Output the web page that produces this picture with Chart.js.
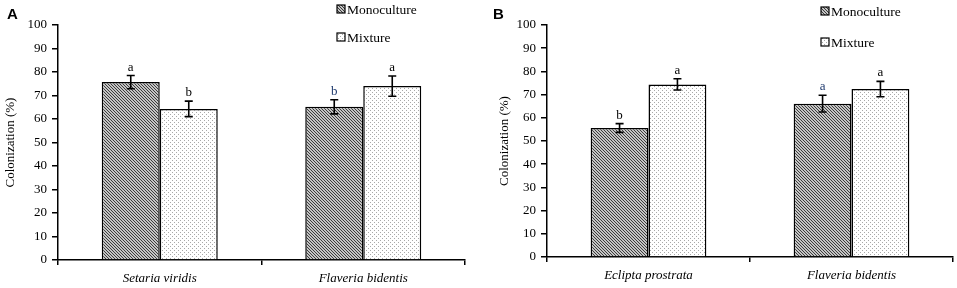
<!DOCTYPE html>
<html>
<head>
<meta charset="utf-8">
<script src="https://cdn.jsdelivr.net/npm/chart.js@4.4.1/dist/chart.umd.min.js"></script>
<style>
  body { margin: 0; background: #fff; }
  .panel { position: absolute; top: 0; height: 288px; }
  #wrapA { left: 0; width: 480px; }
  #wrapB { left: 480px; width: 477px; }
</style>
</head>
<body>
<div class="panel" id="wrapA"><canvas id="chartA" width="480" height="288"></canvas></div>
<div class="panel" id="wrapB"><canvas id="chartB" width="477" height="288"></canvas></div>

<script>
// ─────────────────────────────────────
// DATA
// ─────────────────────────────────────

const seriesNames = ["Monoculture", "Mixture"];
const yTicks = [0, 10, 20, 30, 40, 50, 60, 70, 80, 90, 100];

// panel A
const categoriesA = ["Setaria viridis", "Flaveria bidentis"];
const monoA = [75.7, 65.2];
const mixA = [64.3, 74.0];
const monoErrA = [2.8, 3.0];
const mixErrA = [3.3, 4.3];
const monoLettersA = ["a", "b"];
const mixLettersA = ["b", "a"];

// panel B
const categoriesB = ["Eclipta prostrata", "Flaveria bidentis"];
const monoB = [55.6, 66.1];
const mixB = [74.4, 72.4];
const monoErrB = [1.9, 3.6];
const mixErrB = [2.4, 3.3];
const monoLettersB = ["b", "a"];
const mixLettersB = ["a", "a"];


// ─────────────────────────────────────
// FILL PATTERNS
// ─────────────────────────────────────

function hatchPattern(ctx) {
    const c = document.createElement("canvas");
    c.width = 3; c.height = 3;
    const g = c.getContext("2d");
    g.fillStyle = "#c4c4c4";
    g.fillRect(0, 0, 3, 3);
    g.fillStyle = "#3c3c3c";
    for (let i = 0; i < 3; i++) g.fillRect(i, i, 1, 1);
    return ctx.createPattern(c, "repeat");
}

function dotPattern(ctx) {
    const c = document.createElement("canvas");
    c.width = 4; c.height = 4;
    const g = c.getContext("2d");
    g.fillStyle = "#ffffff";
    g.fillRect(0, 0, 4, 4);
    g.fillStyle = "#a8a8a8";
    g.fillRect(0, 0, 1, 1);
    g.fillRect(2, 2, 1, 1);
    return ctx.createPattern(c, "repeat");
}


// ─────────────────────────────────────
// PLUGIN: error bars, letters, legend, panel label
// ─────────────────────────────────────

const extras = {
    id: "extras",
    afterDatasetsDraw(chart, args, opts) {
        const ctx = chart.ctx;
        const y = chart.scales.y;

        // error bars + letters
        chart.data.datasets.forEach((ds, di) => {
            const meta = chart.getDatasetMeta(di);
            meta.data.forEach((bar, i) => {
                const v = ds.data[i];
                const e = ds.errors[i];
                const top = y.getPixelForValue(v + e);
                const bot = y.getPixelForValue(v - e);
                ctx.save();
                ctx.strokeStyle = "#000";
                ctx.lineWidth = 1.6;
                ctx.beginPath();
                ctx.moveTo(bar.x, top); ctx.lineTo(bar.x, bot);
                ctx.moveTo(bar.x - 4, top); ctx.lineTo(bar.x + 4, top);
                ctx.moveTo(bar.x - 4, bot); ctx.lineTo(bar.x + 4, bot);
                ctx.stroke();

                ctx.font = "13px 'Liberation Serif'";
                ctx.fillStyle = ds.letterColors[i];
                ctx.textAlign = "center";
                ctx.textBaseline = "alphabetic";
                ctx.fillText(ds.letters[i], bar.x, top - opts.letterGap);
                ctx.restore();
            });
        });

        // legend
        ctx.save();
        chart.data.datasets.forEach((ds, di) => {
            const lx = opts.legendX;
            const ly = opts.legendY[di];
            ctx.fillStyle = ds.backgroundColor;
            ctx.fillRect(lx, ly - 4, 8, 8);
            ctx.strokeStyle = "#000";
            ctx.lineWidth = 1.2;
            ctx.strokeRect(lx, ly - 4, 8, 8);
            ctx.fillStyle = "#000";
            ctx.font = "13.5px 'Liberation Serif'";
            ctx.textAlign = "left";
            ctx.textBaseline = "middle";
            ctx.fillText(ds.label, lx + 10, ly + 1);
        });

        // panel label
        ctx.font = "bold 15px 'Liberation Sans'";
        ctx.fillStyle = "#000";
        ctx.textAlign = "left";
        ctx.textBaseline = "alphabetic";
        ctx.fillText(opts.panel, opts.panelX, 19);
        ctx.restore();
    }
};


// ─────────────────────────────────────
// CHART BUILDER
// ─────────────────────────────────────

function makeChart(id, cats, mono, mix, monoErr, mixErr, monoLet, mixLet, monoLetCol, mixLetCol, lay) {

    const canvas = document.getElementById(id);
    const ctx = canvas.getContext("2d");

    return new Chart(canvas, {

        type: "bar",

        data: {
            labels: cats,
            datasets: [
                {
                    label: seriesNames[0],
                    data: mono,
                    errors: monoErr,
                    letters: monoLet,
                    letterColors: monoLetCol,
                    backgroundColor: hatchPattern(ctx),
                    borderColor: "#000",
                    borderWidth: 1.5
                },
                {
                    label: seriesNames[1],
                    data: mix,
                    errors: mixErr,
                    letters: mixLet,
                    letterColors: mixLetCol,
                    backgroundColor: dotPattern(ctx),
                    borderColor: "#000",
                    borderWidth: 1.5
                }
            ]
        },

        options: {
            responsive: false,
            animation: false,
            categoryPercentage: 0.57,
            barPercentage: 1.0,
            layout: {
                padding: { left: 0, right: lay.right, top: 25, bottom: 0 }
            },
            plugins: {
                legend: { display: false },
                tooltip: { enabled: false },
                extras: {
                    letterGap: 5,
                    legendX: lay.legendX,
                    legendY: lay.legendY,
                    panel: lay.panel,
                    panelX: lay.panelX
                }
            },
            scales: {
                x: {
                    afterFit: s => { s.height = lay.xHeight; },
                    grid: {
                        display: true,
                        drawOnChartArea: false,
                        drawTicks: true,
                        tickLength: 5,
                        color: "#000",
                        lineWidth: 1.5
                    },
                    border: { color: "#000", width: 1.5 },
                    ticks: {
                        color: "#000",
                        padding: 6,
                        font: { family: "'Liberation Serif'", size: 13, style: "italic" }
                    }
                },
                y: {
                    min: 0,
                    max: 100,
                    afterFit: s => { s.width = lay.yWidth; },
                    afterBuildTicks: s => { s.ticks = yTicks.map(v => ({ value: v })); },
                    grid: {
                        display: true,
                        drawOnChartArea: false,
                        drawTicks: true,
                        tickLength: 6,
                        color: "#000",
                        lineWidth: 1.5
                    },
                    border: { color: "#000", width: 1.5 },
                    ticks: {
                        color: "#000",
                        padding: 5,
                        font: { family: "'Liberation Serif'", size: 13 }
                    },
                    title: {
                        display: true,
                        text: "Colonization (%)",
                        color: "#000",
                        padding: { top: lay.titlePad, bottom: 0 },
                        font: { family: "'Liberation Serif'", size: 13 }
                    }
                }
            }
        },

        plugins: [extras]
    });
}

const blue = "#1f3a6e";

makeChart("chartA", categoriesA, monoA, mixA, monoErrA, mixErrA,
    monoLettersA, mixLettersA, ["#000", blue], ["#000", "#000"],
    { right: 15, xHeight: 28, yWidth: 58, titlePad: 3,
      legendX: 337, legendY: [9, 37], panel: "A", panelX: 7 });

makeChart("chartB", categoriesB, monoB, mixB, monoErrB, mixErrB,
    monoLettersB, mixLettersB, ["#000", blue], ["#000", "#000"],
    { right: 4, xHeight: 31, yWidth: 67, titlePad: 17,
      legendX: 341, legendY: [11, 42], panel: "B", panelX: 13 });
</script>
</body>
</html>
